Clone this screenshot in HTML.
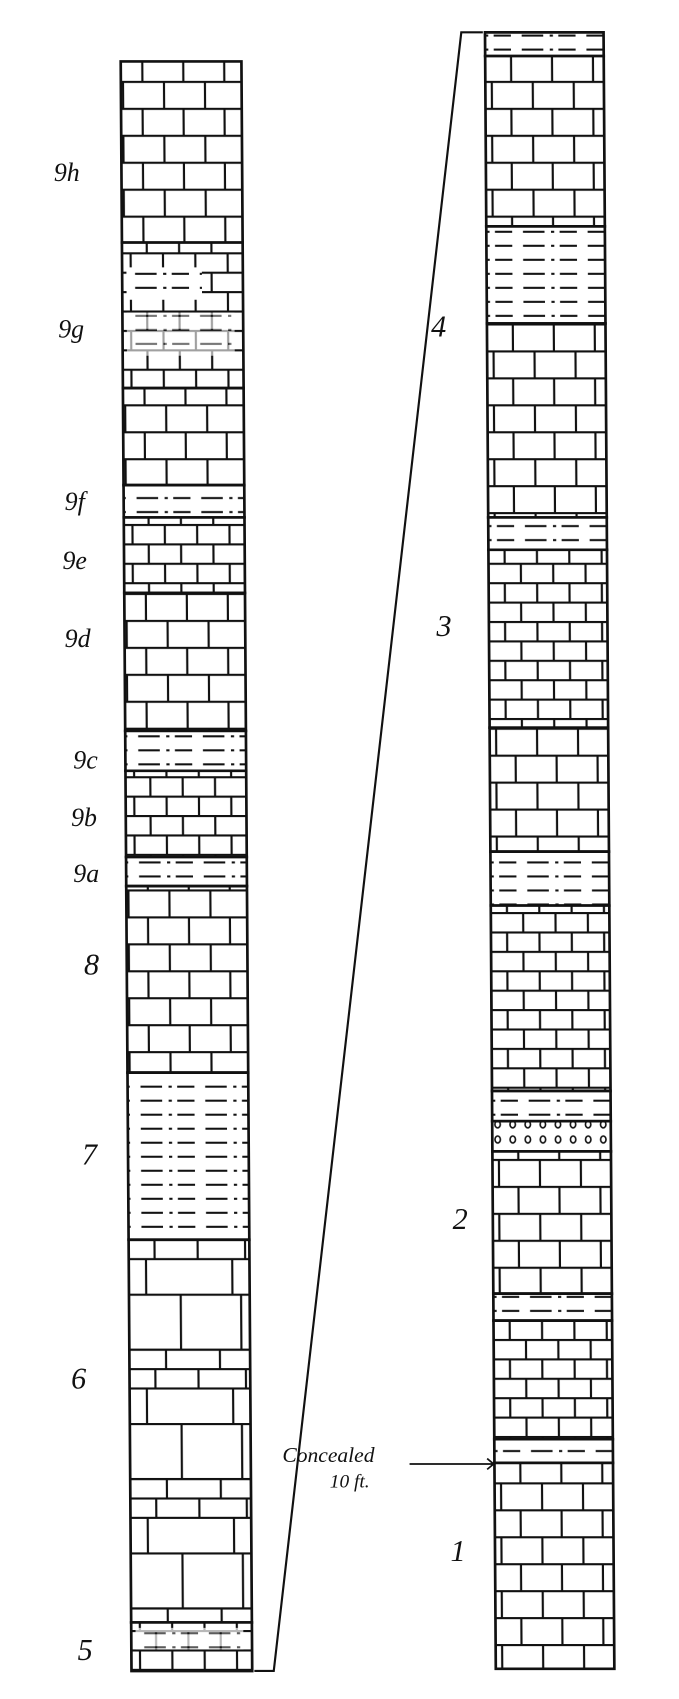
<!DOCTYPE html>
<html><head><meta charset="utf-8"><style>
html,body{margin:0;padding:0;background:#fff;overflow:hidden;width:679px;height:1699px;}
svg{display:block;}
text{font-family:"Liberation Serif",serif;font-style:italic;fill:#111;}
</style></head><body>
<svg width="679" height="1699" viewBox="0 0 630 1576" preserveAspectRatio="none" xmlns="http://www.w3.org/2000/svg">
<defs>
<pattern id="b" patternUnits="userSpaceOnUse" width="76" height="50" x="0" y="0">
<rect width="76" height="50" fill="#fff"/>
<path d="M0 1H76 M0 26H76 M18 1V26 M56 1V26 M0 26V50 M38 26V50 M76 26V50" stroke="#111" stroke-width="2" fill="none"/>
</pattern>
<pattern id="bs" patternUnits="userSpaceOnUse" width="60" height="36" x="0" y="0">
<rect width="60" height="36" fill="#fff"/>
<path d="M0 1H60 M0 19H60 M15 1V19 M45 1V19 M0 19V36 M30 19V36 M60 19V36" stroke="#111" stroke-width="2" fill="none"/>
</pattern>
<pattern id="L" patternUnits="userSpaceOnUse" width="116" height="120" x="0" y="0">
<rect width="116" height="120" fill="#fff"/>
<path d="M0 1H116 M0 52H116 M0 70H116 M0 88H116 M44 1V52 M100 1V52 M30 52V70 M80 52V70 M20 70V88 M60 70V88 M104 70V88 M12 88V120 M92 88V120" stroke="#111" stroke-width="2" fill="none"/>
</pattern>
<pattern id="s" patternUnits="userSpaceOnUse" width="60" height="13" x="0" y="0">
<rect width="60" height="13" fill="#fff"/>
<path d="M4 7H24 M30 7H33 M38 7H54" stroke="#111" stroke-width="2" fill="none"/>
</pattern>
<pattern id="c" patternUnits="userSpaceOnUse" width="14" height="14" x="0" y="0">
<rect width="14" height="14" fill="#fff"/>
<ellipse cx="7" cy="7" rx="2.5" ry="3.2" stroke="#111" stroke-width="1.5" fill="none"/>
</pattern>
</defs>

<g transform="matrix(1,0,0.0067,1,-0.38,0)" stroke="#111" stroke-width="2.5">
<rect x="112" y="57" width="112" height="168" fill="url(#b)"/>
<rect x="112" y="225" width="112" height="135" fill="url(#bs)"/>
<rect x="116" y="248" width="70" height="30" fill="url(#s)" stroke="none"/>
<rect x="116" y="290" width="100" height="40" fill="url(#s)" stroke="none" opacity="0.6"/>
<rect x="112" y="360" width="112" height="90" fill="url(#b)"/>
<rect x="112" y="450" width="112" height="30" fill="url(#s)"/>
<rect x="112" y="480" width="112" height="70" fill="url(#bs)"/>
<rect x="112" y="550" width="112" height="128" fill="url(#b)"/>
<rect x="112" y="678" width="112" height="37" fill="url(#s)"/>
<rect x="112" y="715" width="112" height="80" fill="url(#bs)"/>
<rect x="112" y="795" width="112" height="27" fill="url(#s)"/>
<rect x="112" y="822" width="112" height="173" fill="url(#b)"/>
<rect x="112" y="995" width="112" height="155" fill="url(#s)"/>
<rect x="112" y="1150" width="112" height="355" fill="url(#L)"/>
<rect x="112" y="1505" width="112" height="45" fill="url(#bs)"/>
<rect x="116" y="1510" width="100" height="20" fill="url(#s)" stroke="none" opacity="0.7"/>
</g>

<g transform="matrix(1,0,0.0066,1,-0.2,0)" stroke="#111" stroke-width="2.5">
<rect x="450" y="30" width="110" height="22" fill="url(#s)"/>
<rect x="450" y="52" width="110" height="158" fill="url(#b)"/>
<rect x="450" y="210" width="110" height="90" fill="url(#s)"/>
<rect x="450" y="300" width="110" height="180" fill="url(#b)"/>
<rect x="450" y="480" width="110" height="30" fill="url(#s)"/>
<rect x="450" y="510" width="110" height="165" fill="url(#bs)"/>
<rect x="450" y="675" width="110" height="115" fill="url(#b)"/>
<rect x="450" y="790" width="110" height="50" fill="url(#s)"/>
<rect x="450" y="840" width="110" height="172" fill="url(#bs)"/>
<rect x="450" y="1012" width="110" height="28" fill="url(#s)"/>
<rect x="450" y="1040" width="110" height="28" fill="url(#c)"/>
<rect x="450" y="1068" width="110" height="132" fill="url(#b)"/>
<rect x="450" y="1200" width="110" height="25" fill="url(#s)"/>
<rect x="450" y="1225" width="110" height="110" fill="url(#bs)"/>
<rect x="450" y="1335" width="110" height="22" fill="url(#s)"/>
<rect x="450" y="1357" width="110" height="191" fill="url(#b)"/>
</g>

<path d="M448 30 H428 L254 1550 H236" stroke="#111" stroke-width="2" fill="none"/>

<path d="M380 1358 H458 M452 1353 L458 1358 L452 1363" stroke="#111" stroke-width="1.6" fill="none"/>

<g font-size="24">
<text x="50" y="168">9h</text>
<text x="54" y="313">9g</text>
<text x="60" y="473">9f</text>
<text x="58" y="528">9e</text>
<text x="60" y="600">9d</text>
<text x="68" y="713">9c</text>
<text x="66" y="766">9b</text>
<text x="68" y="818">9a</text>
</g>
<g font-size="28" style="font-style:normal">
<text x="78" y="904">8</text>
<text x="76" y="1080">7</text>
<text x="66" y="1288">6</text>
<text x="72" y="1540">5</text>
<text x="400" y="312">4</text>
<text x="405" y="590">3</text>
<text x="420" y="1140">2</text>
<text x="418" y="1448">1</text>
</g>
<text x="262" y="1356" font-size="20">Concealed</text>
<text x="306" y="1380" font-size="18">10 ft.</text>
</svg>
</body></html>
